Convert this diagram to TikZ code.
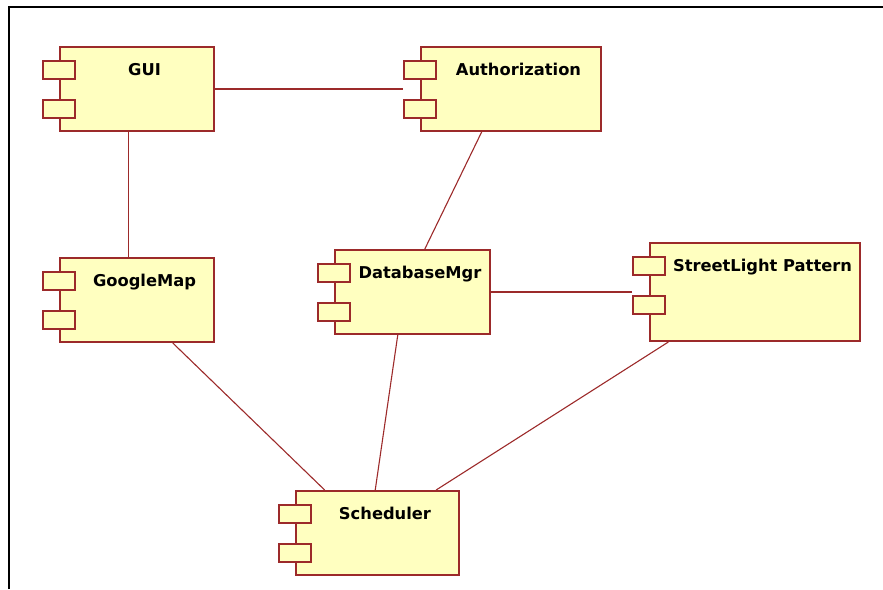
\documentclass[tikz,border=0pt]{standalone}
\usepackage{fontspec}
\setmainfont{DejaVu Sans}
\usetikzlibrary{calc}
\definecolor{CompLine}{HTML}{9C2A2A}
\definecolor{CompFill}{HTML}{FFFFC0}

\tikzset{
  comp/.style={inner sep=0pt,outer sep=0pt,
    path picture={
      \coordinate (nw) at (path picture bounding box.north west);
      \coordinate (se) at (path picture bounding box.south east);
      % body, then the two plug tabs on its left edge
      \draw[CompLine,fill=CompFill,line width=1.3pt] ($(nw)+(18,1)$) rectangle ($(se)+(-1,-1)$);
      \draw[CompLine,fill=CompFill,line width=1.3pt] ($(nw)+(1,15)$) rectangle ($(nw)+(33,33)$);
      \draw[CompLine,fill=CompFill,line width=1.3pt] ($(nw)+(1,54)$) rectangle ($(nw)+(33,72)$);
      \node[anchor=base] at ($(path picture bounding box.north)+(16,29)$) {#1};
    }},
  link/.style={CompLine,line width=1.1pt}
}

\begin{document}
\begin{tikzpicture}[x=1pt,y=-1pt,font=\fontsize{16.3}{19}\selectfont\bfseries]
    \useasboundingbox (0,0) rectangle (883,589);
    \draw[line width=2.3pt] (9,589) -- (9,7) -- (883,7);

    \node[comp=GUI,minimum width=173pt,minimum height=86pt] (gui) at (128.5,89) {};
    \node[comp=Authorization,minimum width=199pt,minimum height=86pt] (auth) at (502.5,89) {};
    \node[comp=GoogleMap,minimum width=173pt,minimum height=86pt] (gmap) at (128.5,300) {};
    \node[comp=DatabaseMgr,minimum width=174pt,minimum height=86pt] (dbmgr) at (404,292) {};
    \node[comp=StreetLight Pattern,minimum width=229pt,minimum height=100pt] (slpattern) at (746.5,292) {};
    \node[comp=Scheduler,minimum width=182pt,minimum height=86pt] (sched) at (369,533) {};

    \draw[link] (gui) -- (auth);
    \draw[link] (gui) -- (gmap);
    \draw[link] (auth) -- (dbmgr);
    \draw[link] (dbmgr) -- (slpattern);
    \draw[link] (gmap) -- (sched);
    \draw[link] (dbmgr) -- (sched);
    \draw[link] (slpattern) -- (sched);
  \end{tikzpicture}
\end{document}
